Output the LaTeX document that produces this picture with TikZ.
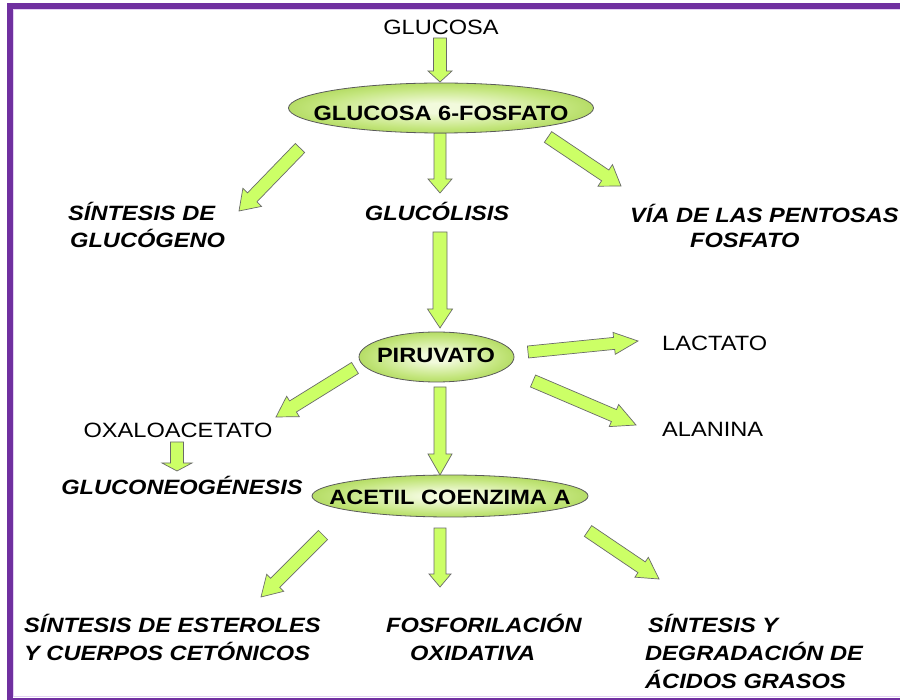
\documentclass[tikz,border=0pt]{standalone}
\usepackage{fontspec}
\setmainfont{Liberation Sans}[FakeStretch=1.14]
\usetikzlibrary{calc,shapes.geometric}
\definecolor{framecol}{HTML}{7030A0}
\definecolor{framehi}{HTML}{E4D0F4}
\definecolor{arrfill}{HTML}{CCFF66}
\definecolor{arredge}{HTML}{6A6A6A}
\definecolor{ellout}{HTML}{96C832}
\definecolor{ellmid}{HTML}{C4E67E}
\definecolor{ellin}{HTML}{F2FADC}
\definecolor{ellline}{HTML}{5A5A5A}
\pgfdeclareradialshading{ellshade}{\pgfpoint{0bp}{0bp}}{color(0bp)=(ellin); color(5bp)=(ellin); color(20bp)=(ellmid); color(36bp)=(ellout); color(50bp)=(ellout)}
\tikzset{
  lbl/.style={font=\fontsize{20.7}{24}\selectfont, inner sep=0pt, text=black},
  lblb/.style={lbl, font=\fontsize{20.7}{24}\selectfont\bfseries},
  lblbi/.style={lbl, font=\fontsize{20.7}{24}\selectfont\bfseries\itshape},
  ellnode/.style={ellipse, draw=ellline, line width=0.8pt, shade, shading=ellshade, inner sep=0pt},
  blockarr/.style={fill=arrfill, draw=arredge, line width=0.7pt, line join=miter},
}
\newcommand\blockarrow[5]{%
  \coordinate (bahead) at ($(#2)!#5!(#1)$);
  \filldraw[blockarr] ($(#1)!#3!90:(#2)$) -- ($(bahead)!#3!90:(#2)$) -- ($(bahead)!#4!90:(#2)$) -- (#2) -- ($(bahead)!#4!-90:(#2)$) -- ($(bahead)!#3!-90:(#2)$) -- ($(#1)!#3!-90:(#2)$) -- cycle;
}
\begin{document}
\begin{tikzpicture}[x=1pt,y=-1pt]
\useasboundingbox (0,0) rectangle (900,700);
\clip (0,0) rectangle (900,700);
\fill[white] (0,0) rectangle (900,700);
% frame
\draw[framehi, line width=1.2pt] (13.6,9.6) rectangle (915,696.4);
\draw[framecol, line width=6pt] (10,6) rectangle (915,701);

% arrow end points
\coordinate (a1s) at (440,38);  \coordinate (a1e) at (440,82);
\coordinate (a2s) at (300,148); \coordinate (a2e) at (239,211);
\coordinate (a3s) at (440,133); \coordinate (a3e) at (440,193);
\coordinate (a4s) at (548,137); \coordinate (a4e) at (621,186);
\coordinate (a5s) at (440,232); \coordinate (a5e) at (440,328);
\coordinate (a6s) at (528,352); \coordinate (a6e) at (638,341);
\coordinate (a7s) at (533,381); \coordinate (a7e) at (636,425);
\coordinate (a8s) at (355,368); \coordinate (a8e) at (276,417);
\coordinate (a9s) at (440,387); \coordinate (a9e) at (440,475);
\coordinate (a10s) at (177,442); \coordinate (a10e) at (177,471);
\coordinate (a11s) at (323,535); \coordinate (a11e) at (261,597);
\coordinate (a12s) at (440,528); \coordinate (a12e) at (440,587);
\coordinate (a13s) at (588,531); \coordinate (a13e) at (659,579);

% arrows
\blockarrow{a1s}{a1e}{6.5pt}{12pt}{11pt}
\blockarrow{a2s}{a2e}{6.5pt}{13pt}{19pt}
\blockarrow{a3s}{a3e}{6pt}{12pt}{14pt}
\blockarrow{a4s}{a4e}{6.5pt}{13pt}{19pt}
\blockarrow{a5s}{a5e}{7pt}{12.5pt}{19pt}
\blockarrow{a6s}{a6e}{6pt}{11pt}{24pt}
\blockarrow{a7s}{a7e}{6.5pt}{12pt}{24pt}
\blockarrow{a8s}{a8e}{6.5pt}{12pt}{20pt}
\blockarrow{a9s}{a9e}{6pt}{12pt}{21pt}
\blockarrow{a10s}{a10e}{6.5pt}{15pt}{8pt}
\blockarrow{a11s}{a11e}{6.5pt}{12pt}{20pt}
\blockarrow{a12s}{a12e}{6pt}{11pt}{13pt}
\blockarrow{a13s}{a13e}{6.5pt}{12pt}{21pt}

% ellipses
\node[ellnode, minimum width=305pt, minimum height=50pt] (g6pshape) at (441,108) {};
\node[ellnode, minimum width=155pt, minimum height=50pt] (pirshape) at (436.5,357) {};
\node[ellnode, minimum width=276pt, minimum height=42pt] (acetshape) at (450,496) {};

% texts
\node[lbl, anchor=base] (glucosa) at (441,35) {GLUCOSA};
\node[lblb, anchor=base] (g6p) at (441,121) {GLUCOSA 6-FOSFATO};
\node[lblbi, anchor=base west] (glucogeno1) at (68,221) {SÍNTESIS DE};
\node[lblbi, anchor=base west] (glucogeno2) at (70,248) {GLUCÓGENO};
\node[lblbi, anchor=base] (glucolisis) at (437,221) {GLUCÓLISIS};
\node[lblbi, anchor=base west] (via1) at (630,223) {VÍA DE LAS PENTOSAS};
\node[lblbi, anchor=base west] (via2) at (690,248) {FOSFATO};
\node[lblb, anchor=base] (piruvato) at (436,363) {PIRUVATO};
\node[lbl, anchor=base west] (lactato) at (662,351) {LACTATO};
\node[lbl, anchor=base west] (alanina) at (662,437) {ALANINA};
\node[lbl, anchor=base] (oxalo) at (178,438) {OXALOACETATO};
\node[lblbi, anchor=base] (gluconeo) at (182,494) {GLUCONEOGÉNESIS};
\node[lblb, anchor=base] (acetil) at (450,504) {ACETIL COENZIMA A};
\node[lblbi, anchor=base west] (ester1) at (24,632) {SÍNTESIS DE ESTEROLES};
\node[lblbi, anchor=base west] (ester2) at (24,660) {Y CUERPOS CETÓNICOS};
\node[lblbi, anchor=base west] (fosfo1) at (386,632) {FOSFORILACIÓN};
\node[lblbi, anchor=base west] (fosfo2) at (410,660) {OXIDATIVA};
\node[lblbi, anchor=base west] (acid1) at (648,632) {SÍNTESIS Y};
\node[lblbi, anchor=base west] (acid2) at (645,660) {DEGRADACIÓN DE};
\node[lblbi, anchor=base west] (acid3) at (645,688) {ÁCIDOS GRASOS};
\end{tikzpicture}
\end{document}
